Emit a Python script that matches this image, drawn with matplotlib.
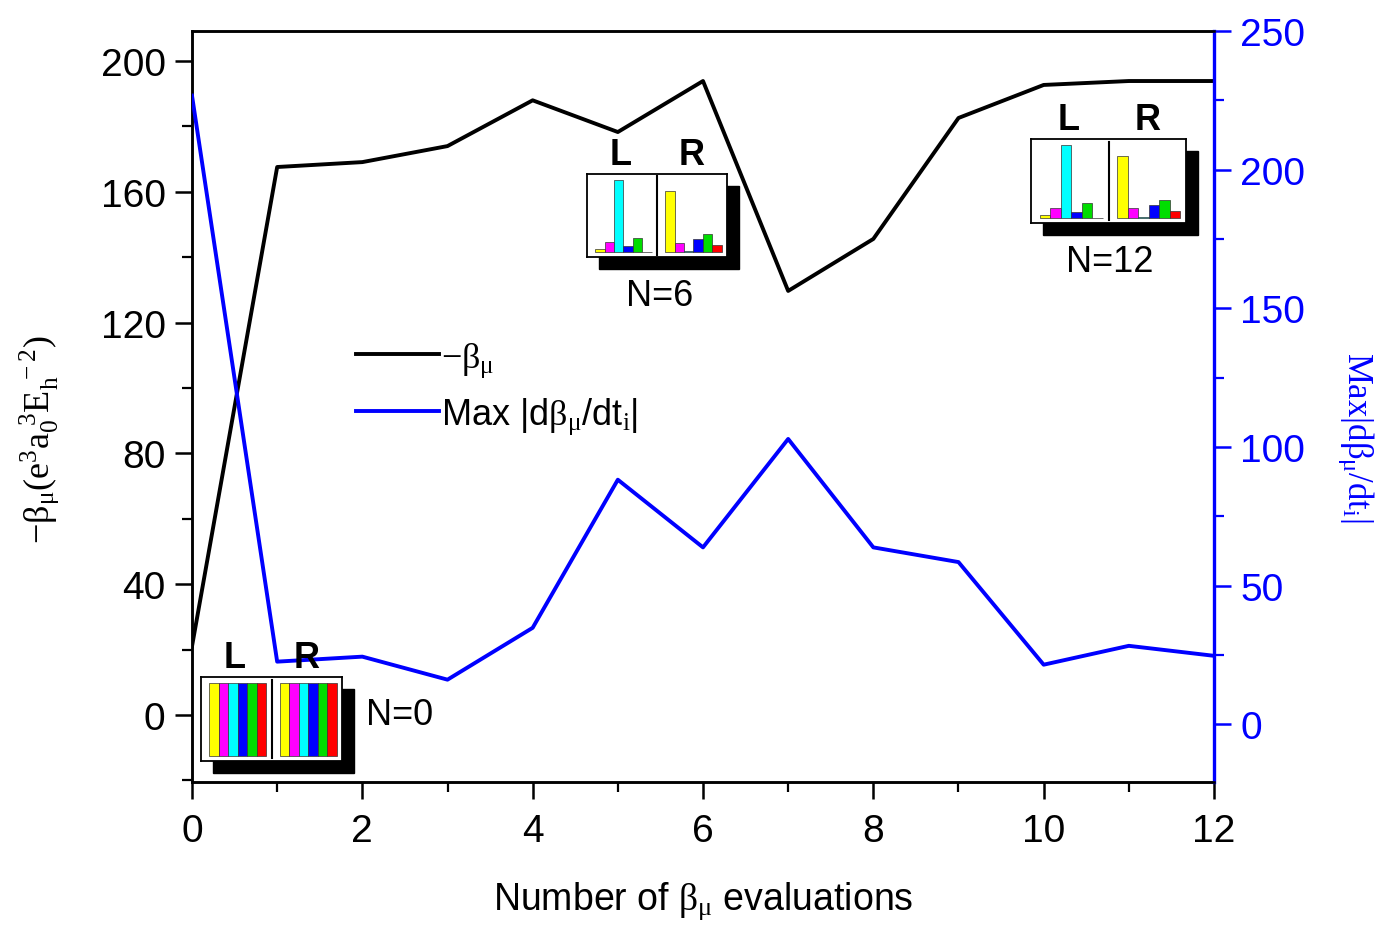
import matplotlib
matplotlib.use("Agg")
import matplotlib.pyplot as plt
from matplotlib.patches import Rectangle
import numpy as np

plt.rcParams['font.family'] = ['Liberation Sans', 'DejaVu Sans']
plt.rcParams['mathtext.fontset'] = 'custom'
plt.rcParams['mathtext.rm'] = 'Liberation Serif'
plt.rcParams['mathtext.it'] = 'Liberation Serif'
plt.rcParams['mathtext.bf'] = 'Liberation Serif:bold'

# ---------------- data ----------------
evaluations = list(range(13))
neg_beta = [21, 167.6, 169.1, 174, 188, 178.3, 193.9, 129.7, 145.6, 182.6, 192.7, 193.9, 193.9]
max_dbeta = [226.7, 22.6, 24.4, 16.1, 34.8, 88.2, 63.8, 102.9, 63.8, 58.5, 21.5, 28.3, 24.7]

left_ticks = [0, 40, 80, 120, 160, 200]
right_ticks = [0, 50, 100, 150, 200, 250]
x_ticks = [0, 2, 4, 6, 8, 10, 12]

bar_colors = ['#FFFF00', '#FF00FF', '#00FFFF', '#0000FF', '#00DD00', '#FF0000']
inset_names = ['N=0', 'N=6', 'N=12']
inset_L = [[1, 1, 1, 1, 1, 1],
           [0.04, 0.14, 1.0, 0.08, 0.19, 0.0],
           [0.045, 0.14, 1.0, 0.085, 0.20, 0.005]]
inset_R = [[1, 1, 1, 1, 1, 1],
           [0.85, 0.12, 0.01, 0.18, 0.25, 0.09],
           [0.85, 0.13, 0.01, 0.18, 0.245, 0.10]]

# ---------------- figure ----------------
W, H = 1379, 928
fig = plt.figure(figsize=(W / 100, H / 100), dpi=100)
ax = fig.add_axes([192 / W, 1 - 783 / H, (1214 - 192) / W, (783 - 32) / H])
ax2 = ax.twinx()

l1, = ax.plot(evaluations, neg_beta, color='black', lw=2.8, label=r'$-\beta_{\mu}$', zorder=3)
l2, = ax2.plot(evaluations, max_dbeta, color='#0000FF', lw=2.8,
               label=r'Max |d$\beta_{\mu}$/dt$_{\mathrm{i}}$|', zorder=3)

ax.set_xlim(0, 12)
ax.set_ylim(-20.5, 209.2)
ax2.set_ylim(-20.8, 248.6)

ax.set_xticks(x_ticks)
ax.set_xticks(range(13), minor=True)
ax.set_yticks(left_ticks)
ax.set_yticks(np.arange(-20, 210, 20), minor=True)
ax2.set_yticks(right_ticks)
ax2.set_yticks(np.arange(-25, 250, 25)[1:], minor=True)

for a in (ax, ax2):
    for s in a.spines.values():
        s.set_linewidth(1.8)
ax.tick_params(which='major', length=12, width=1.8, labelsize=28, pad=7, direction='out')
ax.tick_params(which='minor', length=7, width=1.6, direction='out')
ax.tick_params(axis='x', which='major', pad=10)
ax2.tick_params(which='major', length=12, width=1.8, labelsize=28, pad=7, colors='#0000FF', direction='out')
ax2.tick_params(which='minor', length=7, width=1.6, colors='#0000FF', direction='out')
ax2.spines['right'].set_color('#0000FF')
ax2.spines['right'].set_linewidth(2.4)

ax.set_xlabel(r'Number of $\beta_{\mu}$ evaluations', fontsize=27, labelpad=22)
fig.text(40 / W, 1 - 440 / H,
         r'$\mathrm{-\beta_{\mu}(e^{3}a_{0}^{\ 3}E_{h}^{\ -2})}$',
         rotation=90, fontsize=26, ha='center', va='center')
fig.text(1356 / W, 1 - 437 / H, r'Max|d$\beta_{\mu}$/dt$_{\mathrm{i}}$|',
         rotation=-90, fontsize=25, ha='center', va='center', color='#0000FF',
         family='Liberation Serif')

leg = ax.legend(handles=[l1, l2], loc='upper left', bbox_to_anchor=(0.129, 0.632),
                frameon=False, fontsize=26, handlelength=2.3, handletextpad=0.05,
                labelspacing=0.45)

# ---------------- insets ----------------
# (left, top, width, height) in pixels
inset_boxes = [(201, 678, 141, 84), (587, 175, 140, 83), (1031, 140, 155, 84)]
shadow = 12
label_pos = [((366, 716), 'left'), ((660, 297), 'center'), ((1110, 262), 'center')]

for k, (x0, y0, w, h) in enumerate(inset_boxes):
    # shadow
    fig.patches.append(Rectangle(((x0 + shadow) / W, 1 - (y0 + h + shadow) / H), w / W, h / H,
                                 transform=fig.transFigure, facecolor='black',
                                 edgecolor='black', zorder=5))
    iax = fig.add_axes([x0 / W, 1 - (y0 + h) / H, w / W, h / H], zorder=6)
    iax.set_facecolor('white')
    iax.set_xlim(0, 14.8)
    iax.set_ylim(-0.07, 1.08)
    iax.set_xticks([])
    iax.set_yticks([])
    for s in iax.spines.values():
        s.set_linewidth(1.3)
    xl = 0.85 + np.arange(6)
    xr = 8.25 + np.arange(6)
    iax.bar(xl, inset_L[k], width=1.0, align='edge', color=bar_colors,
            edgecolor='#333333', linewidth=0.5)
    iax.bar(xr, inset_R[k], width=1.0, align='edge', color=bar_colors,
            edgecolor='#333333', linewidth=0.5)
    iax.axvline(7.4, color='black', lw=1.5, ymin=0.03, ymax=0.97)
    # L / R labels
    fig.text((x0 + w * 0.24) / W, 1 - (y0 - 2) / H, 'L', fontsize=26, fontweight='bold',
             ha='center', va='bottom')
    fig.text((x0 + w * 0.75) / W, 1 - (y0 - 2) / H, 'R', fontsize=26, fontweight='bold',
             ha='center', va='bottom')
    (px, py), ha = label_pos[k]
    fig.text(px / W, 1 - py / H, inset_names[k], fontsize=26, ha=ha, va='center')

fig.savefig('out.png', dpi=100)
